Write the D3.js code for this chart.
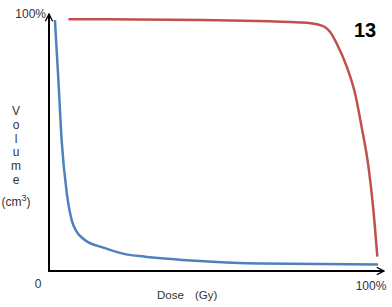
<!DOCTYPE html>
<html>
<head>
<meta charset="utf-8">
<script src="https://cdn.jsdelivr.net/npm/d3@7"></script>
<style>
  html, body { margin: 0; padding: 0; background: #fff; }
  svg { display: block; }
  text { font-family: "Liberation Sans", Arial, sans-serif; fill: #333; }
</style>
</head>
<body>
<svg id="chart" width="392" height="307"></svg>
<script>
// Dose (% of max) vs Volume (%)
const blueDose = [1.8, 2.8, 3.9, 5.4, 6.9, 8.4, 10.9, 17.0, 23.1, 29.2, 45.9, 64.1, 100];
const blueVol  = [99.6, 77.1, 50.8, 31.0, 20.2, 15.6, 12.3, 9.1, 6.7, 5.7, 4.0, 3.0, 2.6];
const redDose  = [5.9, 45.9, 76.3, 79.5, 82.4, 84.4, 85.7, 87.4, 90.5, 93.0, 95.0, 97.1, 98.6, 99.8];
const redVol   = [99.9, 99.6, 98.6, 98.3, 97.6, 96.3, 94.4, 90.4, 81.1, 70.6, 57.3, 41.4, 24.2, 5.7];
const xTickLabels = ["0", "100%"];
const yTickLabels = ["100%"];
const yLabelLetters = ["V", "o", "l", "u", "m", "e"];
const panelLabel = "13";

const svg = d3.select("#chart");
const x = d3.scaleLinear().domain([0, 100]).range([49, 378]);
const y = d3.scaleLinear().domain([0, 100]).range([271, 19]);

// arrow marker
const defs = svg.append("defs");
defs.append("marker")
  .attr("id", "arrow").attr("viewBox", "0 0 10 10")
  .attr("refX", 9).attr("refY", 5)
  .attr("markerWidth", 4.5).attr("markerHeight", 4.5)
  .attr("markerUnits", "strokeWidth")
  .attr("orient", "auto")
  .append("path").attr("d", "M1,1 L9,5 L1,9").attr("fill", "none")
  .attr("stroke", "#000").attr("stroke-width", 1.5);

const line = d3.line().x(d => x(d[0])).y(d => y(d[1])).curve(d3.curveMonotoneX);

const blue = blueDose.map((d, i) => [d, blueVol[i]]);
const red = redDose.map((d, i) => [d, redVol[i]]);

svg.append("path").datum(red).attr("d", line)
  .attr("fill", "none").attr("stroke", "#c0504d").attr("stroke-width", 2.5);
svg.append("path").datum(blue).attr("d", line)
  .attr("fill", "none").attr("stroke", "#4f81bd").attr("stroke-width", 2.5);

// axes
const x0 = x(0), y0 = y(0);
svg.append("line").attr("x1", x0).attr("y1", y0 + 1).attr("x2", x0).attr("y2", 14)
  .attr("stroke", "#000").attr("stroke-width", 2).attr("marker-end", "url(#arrow)");
svg.append("line").attr("x1", x0 - 1).attr("y1", y0).attr("x2", 384).attr("y2", y0)
  .attr("stroke", "#000").attr("stroke-width", 2).attr("marker-end", "url(#arrow)");

// tick labels
svg.append("text").attr("x", x(0) - 11).attr("y", 288).attr("text-anchor", "middle")
  .attr("font-size", 12).text(xTickLabels[0]);
svg.append("text").attr("x", x(100) - 7).attr("y", 290).attr("text-anchor", "middle")
  .attr("font-size", 12).text(xTickLabels[1]);
svg.append("text").attr("x", x(0) - 3).attr("y", y(100) - 1).attr("text-anchor", "end")
  .attr("font-size", 12).text(yTickLabels[0]);

// x label
svg.append("text").attr("x", 157).attr("y", 299).attr("font-size", 11.5).text("Dose");
svg.append("text").attr("x", 195).attr("y", 299).attr("font-size", 11.5).text("(Gy)");

// y label (stacked letters)
const ys = [115, 129, 143, 156, 170, 183.5];
yLabelLetters.forEach((c, i) => {
  svg.append("text").attr("x", 16).attr("y", ys[i]).attr("text-anchor", "middle")
    .attr("font-size", 12).text(c);
});
const cm = svg.append("text").attr("x", 16).attr("y", 206).attr("text-anchor", "middle")
  .attr("font-size", 12);
cm.append("tspan").text("(cm");
cm.append("tspan").attr("dy", -5).attr("font-size", 9).text("3");
cm.append("tspan").attr("dy", 5).text(")");

// panel label
svg.append("text").attr("x", 354).attr("y", 37).attr("font-size", 20)
  .attr("font-weight", "bold").style("fill", "#000").text(panelLabel);
</script>
</body>
</html>
